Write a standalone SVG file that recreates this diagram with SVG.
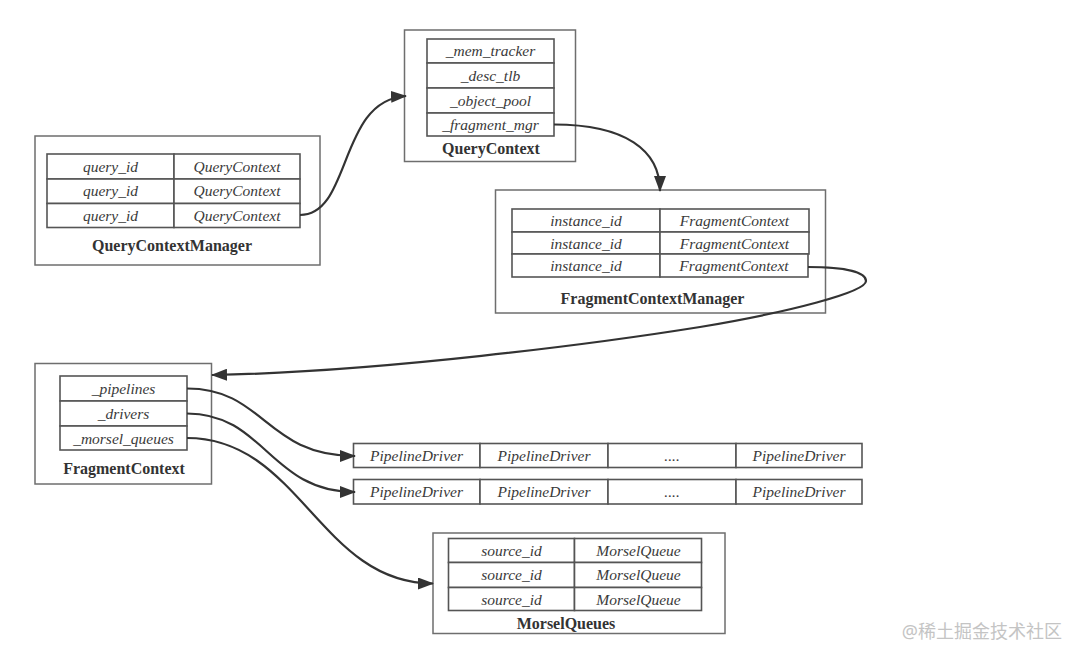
<svg xmlns="http://www.w3.org/2000/svg" width="1080" height="665" viewBox="0 0 1080 665">
<style>
.outer{fill:#fff;stroke:#6e6e6e;stroke-width:1.5}
.cell{fill:#fff;stroke:#555;stroke-width:1.6}
.it{font-family:"Liberation Serif",serif;font-style:italic;font-size:15.5px;fill:#3a3a3a;text-anchor:middle}
.lb{font-family:"Liberation Serif",serif;font-weight:bold;font-size:16px;fill:#333;text-anchor:middle}
.conn{fill:none;stroke:#333;stroke-width:2.2}
.wm{font-family:"Noto Sans","Noto Sans CJK SC",sans-serif;font-size:18px;fill:#c4c4c4;text-anchor:end}
</style>
<defs>
<marker id="arr" markerWidth="16" markerHeight="12" refX="15" refY="6" orient="auto" markerUnits="userSpaceOnUse">
<path d="M0,0 L16,6 L0,12 Z" fill="#333"/>
</marker>
</defs>
<rect width="1080" height="665" fill="#fff"/>

<g id="QueryContextManager">
<rect class="outer" x="35" y="136" width="285" height="129"/>
<rect class="cell" x="47" y="154" width="127" height="25"/>
<rect class="cell" x="174" y="154" width="126" height="25"/>
<rect class="cell" x="47" y="179" width="127" height="24.5"/>
<rect class="cell" x="174" y="179" width="126" height="24.5"/>
<rect class="cell" x="47" y="203.5" width="127" height="24"/>
<rect class="cell" x="174" y="203.5" width="126" height="24"/>
<text class="it" x="110.5" y="171.5">query_id</text>
<text class="it" x="237" y="171.5">QueryContext</text>
<text class="it" x="110.5" y="196">query_id</text>
<text class="it" x="237" y="196">QueryContext</text>
<text class="it" x="110.5" y="220.5">query_id</text>
<text class="it" x="237" y="220.5">QueryContext</text>
<text class="lb" x="172" y="250.5">QueryContextManager</text>
</g>

<g id="QueryContext">
<rect class="outer" x="404.5" y="30" width="171" height="131.5"/>
<rect class="cell" x="427" y="39" width="127" height="24"/>
<rect class="cell" x="427" y="63" width="127" height="25"/>
<rect class="cell" x="427" y="88" width="127" height="25"/>
<rect class="cell" x="427" y="113" width="127" height="23"/>
<text class="it" x="490.5" y="56">_mem_tracker</text>
<text class="it" x="490.5" y="80.5">_desc_tlb</text>
<text class="it" x="490.5" y="105.5">_object_pool</text>
<text class="it" x="490.5" y="129.5">_fragment_mgr</text>
<text class="lb" x="491" y="153.5">QueryContext</text>
</g>

<g id="FragmentContextManager">
<rect class="outer" x="495.5" y="190" width="330" height="123"/>
<rect class="cell" x="512" y="209" width="148" height="23"/>
<rect class="cell" x="660" y="209" width="149" height="23"/>
<rect class="cell" x="512" y="232" width="148" height="22"/>
<rect class="cell" x="660" y="232" width="149" height="22"/>
<rect class="cell" x="512" y="254" width="148" height="23"/>
<rect class="cell" x="660" y="254" width="148" height="23"/>
<text class="it" x="586" y="226">instance_id</text>
<text class="it" x="734.5" y="226">FragmentContext</text>
<text class="it" x="586" y="248.5">instance_id</text>
<text class="it" x="734.5" y="248.5">FragmentContext</text>
<text class="it" x="586" y="271">instance_id</text>
<text class="it" x="734" y="271">FragmentContext</text>
<text class="lb" x="652.5" y="303.5">FragmentContextManager</text>
</g>

<g id="FragmentContext">
<rect class="outer" x="35" y="363.5" width="176.5" height="120.5"/>
<rect class="cell" x="60" y="376" width="127" height="25"/>
<rect class="cell" x="60" y="401" width="127" height="25"/>
<rect class="cell" x="60" y="426" width="127" height="24"/>
<text class="it" x="123.5" y="394">_pipelines</text>
<text class="it" x="123.5" y="419">_drivers</text>
<text class="it" x="123.5" y="443.5">_morsel_queues</text>
<text class="lb" x="124" y="474">FragmentContext</text>
</g>

<g id="PipelineDrivers1">
<rect class="cell" x="353.5" y="443.5" width="126.5" height="24"/>
<rect class="cell" x="480" y="443.5" width="128" height="24"/>
<rect class="cell" x="608" y="443.5" width="128" height="24"/>
<rect class="cell" x="736" y="443.5" width="126" height="24"/>
<text class="it" x="416.5" y="461">PipelineDriver</text>
<text class="it" x="544" y="461">PipelineDriver</text>
<text class="it" x="672" y="461">....</text>
<text class="it" x="799" y="461">PipelineDriver</text>
</g>

<g id="PipelineDrivers2">
<rect class="cell" x="353.5" y="479.5" width="126.5" height="24.5"/>
<rect class="cell" x="480" y="479.5" width="128" height="24.5"/>
<rect class="cell" x="608" y="479.5" width="128" height="24.5"/>
<rect class="cell" x="736" y="479.5" width="126" height="24.5"/>
<text class="it" x="416.5" y="497">PipelineDriver</text>
<text class="it" x="544" y="497">PipelineDriver</text>
<text class="it" x="672" y="497">....</text>
<text class="it" x="799" y="497">PipelineDriver</text>
</g>

<g id="MorselQueues">
<rect class="outer" x="433" y="533" width="292" height="100.5"/>
<rect class="cell" x="448.5" y="538.5" width="126" height="24"/>
<rect class="cell" x="574.5" y="538.5" width="127" height="24"/>
<rect class="cell" x="448.5" y="562.5" width="126" height="25"/>
<rect class="cell" x="574.5" y="562.5" width="127" height="25"/>
<rect class="cell" x="448.5" y="587.5" width="126" height="23"/>
<rect class="cell" x="574.5" y="587.5" width="127" height="23"/>
<text class="it" x="511.5" y="555.5">source_id</text>
<text class="it" x="638.5" y="555.5">MorselQueue</text>
<text class="it" x="511.5" y="580">source_id</text>
<text class="it" x="638.5" y="580">MorselQueue</text>
<text class="it" x="511.5" y="604.5">source_id</text>
<text class="it" x="638.5" y="604.5">MorselQueue</text>
<text class="lb" x="566" y="629">MorselQueues</text>
</g>

<g id="connectors">
<path class="conn" marker-end="url(#arr)" d="M300,215 C352,215 338,100 406,96"/>
<path class="conn" marker-end="url(#arr)" d="M554,124.5 C625,124.5 660,150 660,191"/>
<path class="conn" marker-end="url(#arr)" d="M808,267 C845,267 866,272 866,281 C866,292 790,312 700,327 C600,343 380,372 212,375"/>
<path class="conn" marker-end="url(#arr)" d="M187,388.5 C265,388.5 265,456 355,456"/>
<path class="conn" marker-end="url(#arr)" d="M187,413.5 C265,413.5 270,492 355,492"/>
<path class="conn" marker-end="url(#arr)" d="M187,438 C300,438 320,583.5 433,583.5"/>
</g>

<text class="wm" x="1062" y="638">@稀土掘金技术社区</text>
</svg>
